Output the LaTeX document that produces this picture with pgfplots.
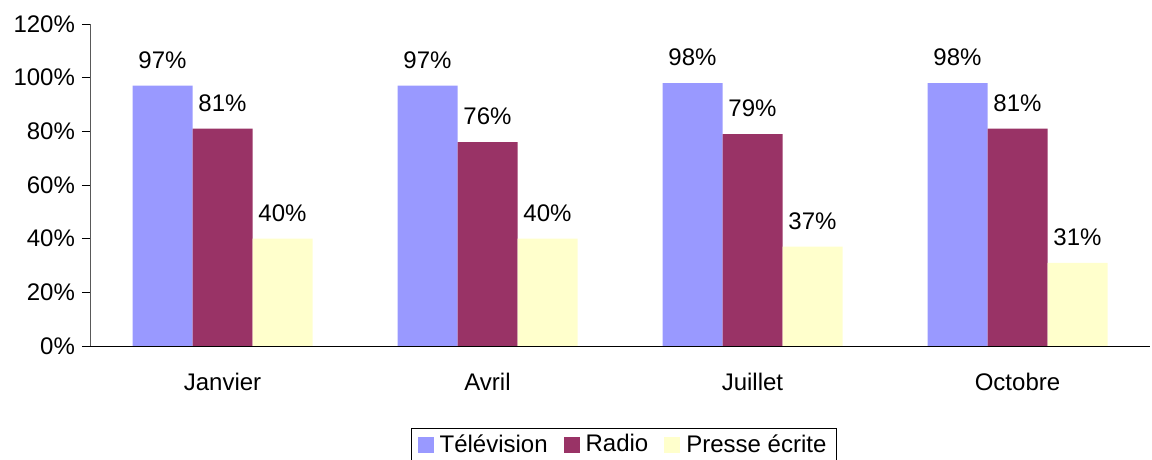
\documentclass[border=0pt]{standalone}
\usepackage{pgfplots}
\pgfplotsset{compat=1.18}
\usepackage{fontspec}
\setmainfont{Liberation Sans}
\definecolor{tele}{HTML}{9999FF}
\definecolor{radio}{HTML}{993366}
\definecolor{presse}{HTML}{FFFFCC}
\begin{document}
\begin{tikzpicture}
\begin{axis}[
  scale only axis, width=530pt, height=161pt,
  ybar=0pt, bar width=30pt,
  ymin=0, ymax=120, ytick={0,20,...,120},
  xmin=-0.5, xmax=3.5,
  xtick={0,1,2,3}, xticklabels={Janvier,Avril,Juillet,Octobre},
  major x tick style={draw=none},
  extra x ticks={-0.5,0.5,1.5,2.5,3.5}, extra x tick labels={},
  extra x tick style={major tick length=4pt, tick style={black}, tick align=outside},
  axis x line*=bottom, axis y line*=left,
  x axis line style={black, -},
  y axis line style={gray!70!black, -},
  ytick align=outside, major tick length=4pt,
  ytick style={black},
  yticklabel={\pgfmathprintnumber{\tick}\%},
  /pgf/number format/assume math mode=true,
  tick label style={font=\fontsize{12}{14}\selectfont},
  xticklabel style={yshift=-6pt},
  nodes near coords={\pgfmathprintnumber{\pgfplotspointmeta}\%},
  every node near coord/.append style={font=\fontsize{12}{14}\selectfont, anchor=south, yshift=5pt},
  legend style={at={(0.5,0)}, xshift=2pt, yshift=-41pt, anchor=north, legend columns=3,
    draw=black, font=\fontsize{12}{14}\selectfont, inner xsep=3pt, inner ysep=1pt,
    /tikz/every odd column/.append style={column sep=1pt},
    /tikz/every even column/.append style={column sep=6pt}},
  legend image code/.code={\fill[#1] (0pt,-4pt) rectangle (8pt,4pt);},
]
\addplot[fill=tele, draw=none] coordinates {(0,97) (1,97) (2,98) (3,98)};
\addlegendentry{Télévision}
\addplot[fill=radio, draw=none] coordinates {(0,81) (1,76) (2,79) (3,81)};
\addlegendentry{Radio}
\addplot[fill=presse, draw=none] coordinates {(0,40) (1,40) (2,37) (3,31)};
\addlegendentry{Presse écrite}
\end{axis}
\pgfresetboundingbox
\path ([shift={(-45pt,-57pt)}]current axis.south west) rectangle ([shift={(1pt,12pt)}]current axis.north east);
\end{tikzpicture}
\end{document}
